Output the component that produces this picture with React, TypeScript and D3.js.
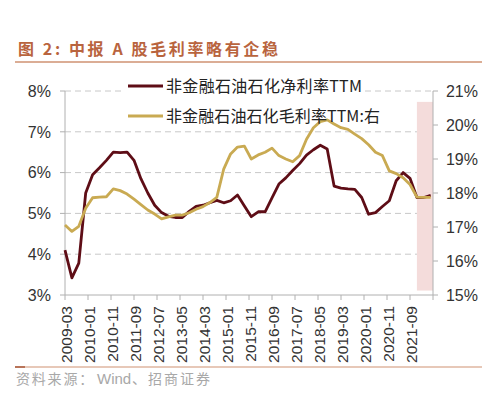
import React from "react";
import * as d3 from "d3";

const categories = [
  "2009-03","2009-06","2009-09","2009-12","2010-03","2010-06","2010-09","2010-12",
  "2011-03","2011-06","2011-09","2011-12","2012-03","2012-06","2012-09","2012-12",
  "2013-03","2013-06","2013-09","2013-12","2014-03","2014-06","2014-09","2014-12",
  "2015-03","2015-06","2015-09","2015-12","2016-03","2016-06","2016-09","2016-12",
  "2017-03","2017-06","2017-09","2017-12","2018-03","2018-06","2018-09","2018-12",
  "2019-03","2019-06","2019-09","2019-12","2020-03","2020-06","2020-09","2020-12",
  "2021-03","2021-06","2021-09","2021-12","2022-03","2022-06",
];

// 非金融石油石化净利率TTM (left axis, %)
const netMargin = [
  4.1, 3.42, 3.78, 5.5, 5.95, 6.12, 6.3, 6.5, 6.49, 6.5,
  6.3, 5.85, 5.5, 5.2, 5.02, 4.93, 4.9, 4.9, 5.05, 5.17,
  5.2, 5.26, 5.32, 5.26, 5.31, 5.45, 5.18, 4.92, 5.04, 5.04,
  5.38, 5.72, 5.87, 6.05, 6.22, 6.43, 6.56, 6.67, 6.58, 5.67,
  5.62, 5.6, 5.59, 5.39, 4.98, 5.02, 5.17, 5.31, 5.8, 6.0,
  5.86, 5.39, 5.39, 5.44,
];

// 非金融石油石化毛利率TTM (right axis, %)
const grossMargin = [
  17.06, 16.87, 17.02, 17.55, 17.86, 17.88, 17.89, 18.12, 18.07, 17.97,
  17.82, 17.66, 17.5, 17.38, 17.24, 17.3, 17.35, 17.35, 17.42, 17.52,
  17.6, 17.72, 17.87, 18.7, 19.15, 19.35, 19.38, 19.0, 19.12, 19.2,
  19.32, 19.1, 19.0, 18.92, 19.1, 19.58, 19.92, 20.1, 20.15, 20.03,
  19.92, 19.87, 19.73, 19.6, 19.42, 19.2, 19.1, 18.65, 18.57, 18.45,
  18.25, 17.88, 17.87, 17.87,
];

const xTickLabels = [
  "2009-03","2010-01","2010-11","2011-09","2012-07","2013-05","2014-03","2015-01",
  "2015-11","2016-09","2017-07","2018-05","2019-03","2020-01","2020-11","2021-09",
];
const axisEnd = "2022-07";
const leftTicks = [3, 4, 5, 6, 7, 8];
const rightTicks = [15, 16, 17, 18, 19, 20, 21];
const shade = { from: "2021-12", to: "2022-07", top: 20.68, bottom: 15.13 };

const seriesNames = ["非金融石油石化净利率TTM", "非金融石油石化毛利率TTM:右"];
const title = "图 2:  中报 A 股毛利率略有企稳";
const sourceParts = ["资料来源：", "Wind", "、招商证券"];

const monthIndex = (s: string) => {
  const [y, m] = s.split("-").map(Number);
  return (y - 2009) * 12 + (m - 3);
};

const NET = "#5e0d16";
const GROSS = "#c9aa52";
const CJK = "'Noto Sans CJK SC', 'Noto Sans', sans-serif";
const NUM = "'Liberation Sans', Arial, sans-serif";

export default function App() {
  const W = 488, H = 399;
  const x = d3.scaleLinear().domain([0, monthIndex(axisEnd)]).range([65, 433]);
  const yL = d3.scaleLinear().domain([3, 8]).range([295, 91]);
  const yR = d3.scaleLinear().domain([15, 21]).range([295, 91]);

  const netLine = d3.line<number>()
    .x((_, i) => x(monthIndex(categories[i])))
    .y((d) => yL(d));
  const grossLine = d3.line<number>()
    .x((_, i) => x(monthIndex(categories[i])))
    .y((d) => yR(d));

  const tickMonths = d3.range(0, monthIndex(axisEnd) + 1, 10);

  return (
    <svg width={W} height={H} style={{ position: "absolute", left: 0, top: 0, background: "#fff" }}>
      <rect x={0} y={0} width={W} height={H} fill="#fff" />
      {/* title */}
      <text x={18} y={54.5} fontFamily={CJK} fontSize={16} fontWeight="bold" fill="#b9643e"
        textLength={260} lengthAdjust="spacing">{title}</text>
      <line x1={15} x2={482} y1={62} y2={62} stroke="#cf9272" strokeWidth={1.5} />

      {/* gridlines */}
      {leftTicks.slice(1).map((t) => (
        <line key={"g" + t} x1={x(0)} x2={x(monthIndex(axisEnd))} y1={yL(t)} y2={yL(t)}
          stroke="#c8c8c8" strokeWidth={1} strokeDasharray="6,4" />
      ))}

      {/* shaded region */}
      <rect x={x(monthIndex(shade.from))} y={yR(shade.top)}
        width={x(monthIndex(shade.to)) - x(monthIndex(shade.from))}
        height={yR(shade.bottom) - yR(shade.top)} fill="#f4dcdb" />

      {/* axes */}
      <line x1={x(0)} x2={x(0)} y1={yL(8)} y2={yL(3)} stroke="#b0b0b0" />
      <line x1={x(monthIndex(axisEnd))} x2={x(monthIndex(axisEnd))} y1={yR(21)} y2={yR(15)} stroke="#b0b0b0" />
      <line x1={x(0)} x2={x(monthIndex(axisEnd))} y1={yL(3)} y2={yL(3)} stroke="#b0b0b0" />
      {leftTicks.map((t) => (
        <g key={"l" + t}>
          <line x1={x(0) - 5} x2={x(0)} y1={yL(t)} y2={yL(t)} stroke="#b0b0b0" />
          <text x={51} y={yL(t)} dy="0.36em" textAnchor="end" fontFamily={NUM} fontSize={16} fill="#333">{t}%</text>
        </g>
      ))}
      {rightTicks.map((t) => (
        <g key={"r" + t}>
          <line x1={x(monthIndex(axisEnd))} x2={x(monthIndex(axisEnd)) + 5} y1={yR(t)} y2={yR(t)} stroke="#b0b0b0" />
          <text x={478} y={yR(t)} dy="0.36em" textAnchor="end" fontFamily={NUM} fontSize={16} fill="#333">{t}%</text>
        </g>
      ))}
      {tickMonths.map((m) => (
        <line key={"t" + m} x1={x(m)} x2={x(m)} y1={yL(3)} y2={yL(3) + 5} stroke="#b0b0b0" />
      ))}
      {xTickLabels.map((s) => {
        const px = x(monthIndex(s)) + 1;
        return (
          <text key={s} transform={`translate(${px},306) rotate(-90)`} textAnchor="end"
            dominantBaseline="central" fontFamily={NUM} fontSize={15.5} fill="#333">{s}</text>
        );
      })}

      {/* lines */}
      <path d={netLine(netMargin) || ""} fill="none" stroke={NET} strokeWidth={2.8} strokeLinejoin="round" />
      <path d={grossLine(grossMargin) || ""} fill="none" stroke={GROSS} strokeWidth={2.8} strokeLinejoin="round" />

      {/* legend */}
      <rect x={124} y={78} width={240} height={17} fill="#fff" />
      <line x1={128} x2={163} y1={86} y2={86} stroke={NET} strokeWidth={3} />
      <text x={166} y={86} dy="0.36em" fontFamily={CJK} fontSize={16} fill="#222"
        textLength={196} lengthAdjust="spacing">{seriesNames[0]}</text>
      <line x1={128} x2={163} y1={116} y2={116} stroke={GROSS} strokeWidth={3} />
      <text x={166} y={116} dy="0.36em" fontFamily={CJK} fontSize={16} fill="#222"
        textLength={214} lengthAdjust="spacing">{seriesNames[1]}</text>

      {/* source */}
      <line x1={15} x2={482} y1={367} y2={367} stroke="#cf9272" strokeWidth={1.2} />
      <line x1={15} x2={25} y1={367} y2={367} stroke="#a8583a" strokeWidth={1.5} />
      <text x={16} y={384} fontFamily={CJK} fontSize={14} fill="#a8a8a8">
        <tspan x={16} letterSpacing={1.8}>{sourceParts[0]}</tspan>
        <tspan x={97} fontFamily={NUM} fontSize={15}>{sourceParts[1]}</tspan>
        <tspan x={132} letterSpacing={2}>{sourceParts[2]}</tspan>
      </text>
    </svg>
  );
}
